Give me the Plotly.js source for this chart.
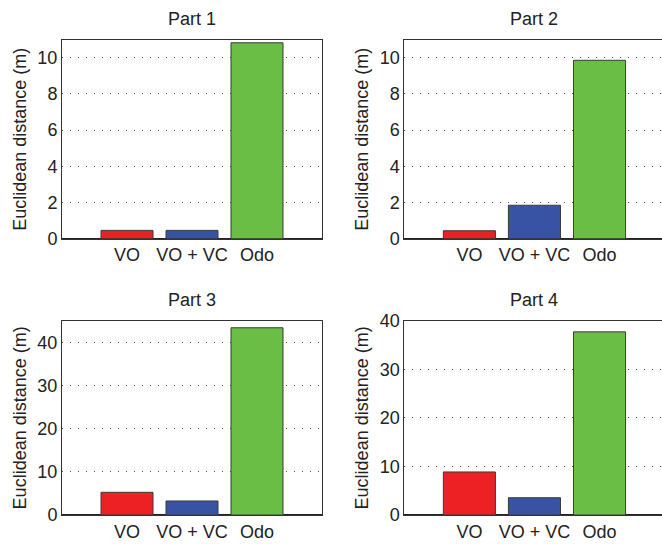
<!DOCTYPE html>
<html>
<head>
<meta charset="utf-8">
<script src="https://cdn.plot.ly/plotly-3.0.1.min.js"></script>
<style>html,body{margin:0;padding:0;overflow:hidden;background:#fff}</style>
</head>
<body>
<div id="chart" style="width:662px;height:544px"></div>
<script>
const categories = ["VO", "VO + VC", "Odo"];
const categoryPositions = [1, 2, 3];
const part1 = [0.46, 0.46, 10.83];
const part2 = [0.44, 1.85, 9.86];
const part3 = [5.26, 3.25, 43.36];
const part4 = [8.86, 3.56, 37.7];
const titles = ["Part 1", "Part 2", "Part 3", "Part 4"];
const yTickVals12 = [0, 2, 4, 6, 8, 10];
const yTickVals34 = [0, 10, 20, 30, 40];
const barColors = ["#ED2024", "#3953A4", "#6ABD45"];

const FONT = "Liberation Sans, Arial, Helvetica, sans-serif";
const parts = [part1, part2, part3, part4];
const data = parts.map((vals, i) => ({
  type: "bar",
  x: categoryPositions,
  y: vals,
  width: 0.8,
  marker: {color: barColors, line: {color: "#3a3a3a", width: 1}},
  xaxis: i === 0 ? "x" : "x" + (i + 1),
  yaxis: i === 0 ? "y" : "y" + (i + 1),
  showlegend: false,
  hoverinfo: "x+y"
}));

const W = 662, H = 544;
const colDom = [[62 / W, 322 / W], [404.3 / W, 1]];
const rowDom = [[(H - 238.7) / H, (H - 39.7) / H], [(H - 515) / H, (H - 320.7) / H]];
const yRanges = [[0, 11], [0, 11], [0, 45], [0, 40]];
const yTicks = [yTickVals12, yTickVals12, yTickVals34, yTickVals34];

const layout = {
  width: W, height: H,
  margin: {l: 0, r: 0, t: 0, b: 0},
  paper_bgcolor: "#fff", plot_bgcolor: "#fff",
  font: {family: FONT, size: 18, color: "#222"},
  bargap: 0.2,
  annotations: []
};

for (let i = 0; i < 4; i++) {
  const col = i % 2, row = Math.floor(i / 2);
  const sx = i === 0 ? "" : String(i + 1);
  const isRight = col === 1;
  layout["xaxis" + sx] = {
    domain: colDom[col],
    range: isRight ? [0, 3.96] : [0, 4],
    anchor: "y" + sx,
    tickmode: "array",
    tickvals: categoryPositions,
    ticktext: categories,
    ticks: "",
    showgrid: false,
    showline: true, linecolor: "#333", linewidth: 1, mirror: true,
    tickfont: {family: FONT, size: 18, color: "#222"},
    fixedrange: true
  };
  layout["yaxis" + sx] = {
    domain: rowDom[row],
    range: yRanges[i],
    anchor: "x" + sx,
    tickmode: "array",
    tickvals: yTicks[i],
    ticks: "",
    showgrid: true, gridcolor: "#555", gridwidth: 1, griddash: "1px,7px",
    zeroline: true, zerolinecolor: "#222", zerolinewidth: 2,
    showline: true, linecolor: "#333", linewidth: 1, mirror: !isRight,
    tickfont: {family: FONT, size: 18, color: "#222"},
    title: {text: "Euclidean distance (m)", font: {family: FONT, size: 18, color: "#222"}, standoff: 6},
    fixedrange: true
  };
  const xc = isRight ? (404.3 + 664.5) / 2 / W : (62 + 322) / 2 / W;
  const yc = row === 0 ? (H - 19) / H : (H - 300.3) / H;
  layout.annotations.push({
    text: titles[i], xref: "paper", yref: "paper", x: xc, y: yc,
    xanchor: "center", yanchor: "middle", showarrow: false,
    font: {family: FONT, size: 18, color: "#222"}
  });
}

Plotly.newPlot("chart", data, layout, {displayModeBar: false, staticPlot: true});
</script>
</body>
</html>
